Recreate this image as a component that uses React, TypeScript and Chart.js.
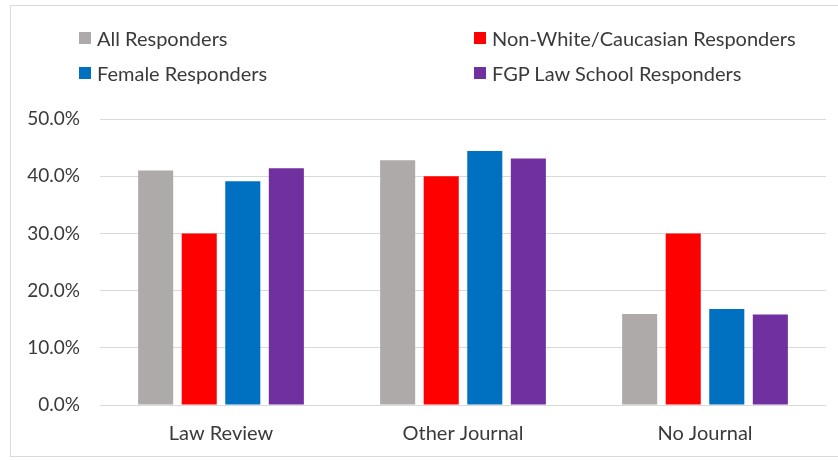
import React, { useEffect, useRef } from "react";
import { Chart, registerables } from "chart.js";

Chart.register(...registerables);

const categories = ["Law Review", "Other Journal", "No Journal"];
const seriesNames = [
  "All Responders",
  "Non-White/Caucasian Responders",
  "Female Responders",
  "FGP Law School Responders",
];
const allResponders = [41.0, 42.8, 15.9];
const nonWhiteResponders = [30.0, 40.0, 30.0];
const femaleResponders = [39.1, 44.4, 16.8];
const fgpResponders = [41.4, 43.1, 15.8];
const seriesColors = ["#AEAAAA", "#FF0000", "#0070C0", "#7030A0"];
const yMax = 50;
const yStep = 10;

const FONT = "Lato, 'Open Sans', sans-serif";
const TEXT = "#3A3A3A";

export default function App() {
  const canvasRef = useRef<HTMLCanvasElement | null>(null);

  useEffect(() => {
    const canvas = canvasRef.current;
    if (!canvas) return;
    const values = [allResponders, nonWhiteResponders, femaleResponders, fgpResponders];
    const chart = new Chart(canvas, {
      type: "bar",
      data: {
        labels: categories,
        datasets: seriesNames.map((name, i) => ({
          label: name,
          data: values[i],
          backgroundColor: seriesColors[i],
          borderWidth: 0,
          categoryPercentage: 0.72,
          barPercentage: 0.805,
        })),
      },
      options: {
        responsive: false,
        animation: false,
        devicePixelRatio: 1,
        layout: { padding: { left: 0, top: 119, right: 12, bottom: 0 } },
        plugins: {
          legend: { display: false },
          tooltip: { enabled: false },
        },
        scales: {
          x: {
            grid: { display: false, drawTicks: false },
            border: { display: false },
            ticks: {
              color: TEXT,
              font: { family: FONT, size: 20 },
              padding: 17,
            },
            afterFit: (scale: any) => {
              scale.height = 55;
            },
          },
          y: {
            min: 0,
            max: yMax,
            grid: { color: "#D9D9D9", lineWidth: 1, drawTicks: false },
            border: { display: false },
            ticks: {
              stepSize: yStep,
              color: TEXT,
              font: { family: FONT, size: 19 },
              padding: 20,
              callback: (v: any) => Number(v).toFixed(1) + "%",
            },
            afterFit: (scale: any) => {
              scale.width = 100;
            },
          },
        },
      },
    });
    return () => chart.destroy();
  }, []);

  const legendPos = [
    { left: 79, top: 38 },
    { left: 474, top: 38 },
    { left: 79, top: 73 },
    { left: 474, top: 73 },
  ];

  return (
    <div
      style={{
        position: "fixed",
        left: 0,
        top: 0,
        width: 838,
        height: 460,
        background: "#ffffff",
        overflow: "hidden",
      }}
    >
      <div
        style={{
          position: "absolute",
          left: 10,
          top: 5,
          width: 840,
          height: 452,
          border: "1px solid #D9D9D9",
          boxSizing: "border-box",
        }}
      />
      <canvas
        ref={canvasRef}
        width={838}
        height={460}
        style={{ position: "absolute", left: 0, top: 0, width: 838, height: 460 }}
      />
      {seriesNames.map((name, i) => (
        <div
          key={name}
          style={{
            position: "absolute",
            left: legendPos[i].left,
            top: legendPos[i].top - 13,
            height: 26,
            display: "flex",
            alignItems: "center",
            fontFamily: FONT,
            fontSize: 20,
            color: TEXT,
            whiteSpace: "nowrap",
          }}
        >
          <span
            style={{
              display: "inline-block",
              width: 12,
              height: 12,
              background: seriesColors[i],
              marginRight: 6,
            }}
          />
          <span>{name}</span>
        </div>
      ))}
    </div>
  );
}
